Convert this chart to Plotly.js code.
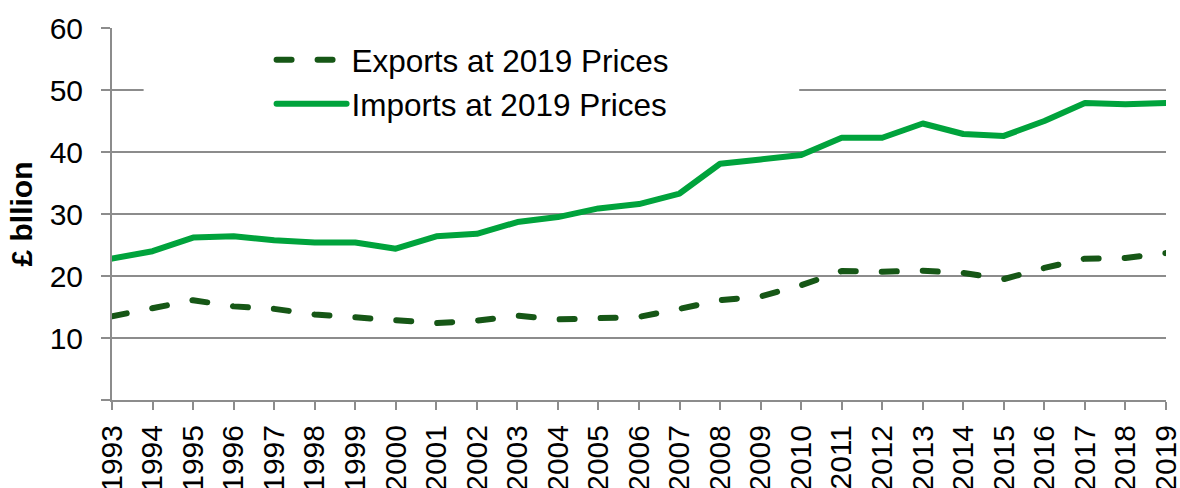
<!DOCTYPE html>
<html>
<head>
<meta charset="utf-8">
<script src="https://cdn.plot.ly/plotly-3.0.1.min.js"></script>
<style>
html,body{margin:0;padding:0;background:#fff;}
#chart{width:1180px;height:488px;}
path.js-line{stroke-linecap:round;stroke-linejoin:round;}
</style>
</head>
<body>
<div id="chart"></div>
<script>
const years = ['1993','1994','1995','1996','1997','1998','1999','2000','2001','2002','2003','2004','2005','2006','2007','2008','2009','2010','2011','2012','2013','2014','2015','2016','2017','2018','2019'];
const exportsVals = [13.5,14.8,16.1,15.1,14.7,13.8,13.3,12.7,12.4,12.8,13.6,13.0,13.1,13.4,14.7,16.1,16.7,18.5,20.8,20.7,20.85,20.5,19.5,21.3,22.8,22.9,23.7];
const importsVals = [22.8,24.0,26.2,26.4,25.75,25.4,25.4,24.4,26.4,26.8,28.7,29.5,30.9,31.6,33.3,38.1,38.8,39.5,42.3,42.3,44.6,42.9,42.6,45.0,47.9,47.7,47.9];
const seriesNames = ['Exports at 2019 Prices','Imports at 2019 Prices'];
const yTickVals = [0,10,20,30,40,50,60];
const yTickText = ['','10','20','30','40','50','60'];
const yTitle = '£ bllion';

const FONT = '"Liberation Sans", Arial, sans-serif';
const GRID = '#8c8c8c';

const traces = [
  {x: years, y: exportsVals, name: seriesNames[0], type: 'scatter', mode: 'lines',
   line: {color: '#165716', width: 6, dash: '15px,26px'}},
  {x: years, y: importsVals, name: seriesNames[1], type: 'scatter', mode: 'lines',
   line: {color: '#00A33C', width: 6}}
];

const layout = {
  width: 1180, height: 488,
  margin: {l: 112, r: 14, t: 28, b: 88, pad: 0},
  paper_bgcolor: '#fff', plot_bgcolor: '#fff',
  font: {family: FONT, size: 30, color: '#000'},
  showlegend: true,
  legend: {
    x: 0.1514, y: 0.987, xanchor: 'left', yanchor: 'top',
    bgcolor: 'rgba(0,0,0,0)', borderwidth: 0,
    font: {family: FONT, size: 31.5, color: '#000'},
    itemwidth: 70, tracegroupgap: 0
  },
  xaxis: {
    type: 'category', range: [0, years.length - 1],
    showgrid: false, zeroline: false,
    showline: true, linecolor: GRID, linewidth: 2,
    ticks: 'outside', ticklen: 8, tickwidth: 2, tickcolor: GRID,
    tickangle: -90, tickfont: {family: FONT, size: 30, color: '#000'},
    ticklabelstandoff: 3,
    fixedrange: true
  },
  yaxis: {
    range: [0, 60], tickmode: 'array', tickvals: yTickVals, ticktext: yTickText,
    showgrid: true, gridcolor: GRID, gridwidth: 2, zeroline: false,
    showline: true, linecolor: GRID, linewidth: 2,
    ticks: 'outside', ticklen: 9, tickwidth: 2, tickcolor: GRID,
    tickfont: {family: FONT, size: 30, color: '#000'},
    ticklabelstandoff: 12,
    title: {text: yTitle, font: {family: FONT, size: 30, color: '#000', weight: 'bold'}, standoff: 8},
    automargin: false, fixedrange: true
  },
  shapes: [
    {type: 'rect', xref: 'paper', yref: 'paper', x0: 0.030, x1: 0.652, y0: 0.74, y1: 0.99,
     fillcolor: '#ffffff', line: {width: 0}, layer: 'above'}
  ]
};

Plotly.newPlot('chart', traces, layout, {displayModeBar: false, staticPlot: true});
</script>
</body>
</html>
